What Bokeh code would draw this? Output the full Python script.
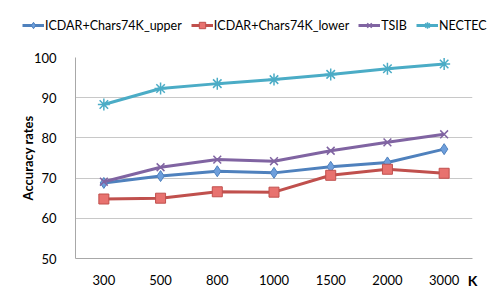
from bokeh.plotting import figure
from bokeh.models import Legend, LegendItem, FixedTicker, Range1d
from bokeh.layouts import column
from bokeh.embed import file_html
from bokeh.resources import INLINE

K = ["300", "500", "800", "1000", "1500", "2000", "3000"]
upper = [68.8, 70.5, 71.7, 71.3, 72.8, 73.9, 77.2]
lower = [64.8, 65.0, 66.6, 66.5, 70.7, 72.2, 71.2]
tsib = [69.1, 72.7, 74.6, 74.2, 76.8, 78.9, 80.9]
nectec = [88.3, 92.3, 93.5, 94.5, 95.8, 97.2, 98.4]
names = ["ICDAR+Chars74K_upper", "ICDAR+Chars74K_lower", "TSIB", "NECTEC"]
y_ticks = [50, 60, 70, 80, 90, 100]

FONT = "Lato"

styles = [
    ("#4F81BD", "#6E9FDC", "diamond", 11),
    ("#C0504D", "#E8726F", "square", 10),
    ("#8064A2", "#8064A2", "x", 11),
    ("#4BACC6", "#4BACC6", "asterisk", 12),
]

# main chart
p = figure(x_range=K, y_range=(50, 100), width=492, height=251,
           output_backend="svg", toolbar_location=None,
           min_border_left=75, min_border_right=20, min_border_top=17, min_border_bottom=25)

# legend strip (its own small figure so the legend is not clipped by the chart frame)
lf = figure(width=492, height=40, x_range=Range1d(0, 1), y_range=Range1d(0, 1),
            output_backend="svg", toolbar_location=None,
            min_border_left=22, min_border_right=0, min_border_top=17, min_border_bottom=0,
            x_axis_type=None, y_axis_type=None)
lf.outline_line_color = None
lf.background_fill_color = "white"
lf.border_fill_color = "white"

items = []
for name, vals, (col, fill, mk, sz) in zip(names, [upper, lower, tsib, nectec], styles):
    lw = 1.5 if mk in ("x", "asterisk") else 1
    p.line(K, vals, line_color=col, line_width=3)
    p.scatter(K, vals, marker=mk, size=sz, line_color=col, fill_color=fill, line_width=lw)
    # off-range proxies: only their styles are used to draw the legend swatches
    d1 = lf.line([-2, -1], [-2, -1], line_color=col, line_width=3)
    d2 = lf.scatter([-2], [-2], marker=mk, size=sz - 1, line_color=col, fill_color=fill, line_width=lw)
    items.append(LegendItem(label=name, renderers=[d1, d2]))

legend = Legend(items=items, orientation="horizontal", location="top_left",
                padding=0, spacing=9, margin=0, label_standoff=1,
                glyph_width=22, glyph_height=16, label_height=16,
                label_text_font=FONT, label_text_font_size="12.5px", label_text_color="#000000",
                border_line_color=None, background_fill_color=None)
lf.add_layout(legend, "center")

# keep the legend strip's frame independent of the chart frame
try:
    lf.frame_align = False
    p.frame_align = False
except Exception:
    legend.label_text_font_size = "10.5px"
    legend.glyph_width = 18
    legend.spacing = 5

p.outline_line_color = None
p.background_fill_color = "white"
p.border_fill_color = "white"

p.xgrid.grid_line_color = None
p.ygrid.grid_line_color = "#c8c8c8"
p.ygrid.grid_line_width = 1
p.yaxis.ticker = FixedTicker(ticks=y_ticks)

for ax in (p.xaxis[0], p.yaxis[0]):
    ax.major_tick_line_color = None
    ax.minor_tick_line_color = None
    ax.axis_line_color = "#a8a8a8"
    ax.major_label_text_font = FONT
    ax.major_label_text_font_size = "13px"
    ax.major_label_text_color = "#000000"

p.yaxis.major_label_standoff = 13
p.xaxis.major_label_standoff = 10
p.yaxis.axis_label = "Accuracy rates"
p.yaxis.axis_label_text_font = FONT
p.yaxis.axis_label_text_font_style = "bold"
p.yaxis.axis_label_text_font_size = "13px"
p.yaxis.axis_label_standoff = -5
p.yaxis.axis_label_text_color = "#000000"

p.xaxis.axis_label = "K"
p.xaxis.axis_label_align = "end"
p.xaxis.axis_label_standoff = -16
p.xaxis.axis_label_text_font = FONT
p.xaxis.axis_label_text_font_style = "bold"
p.xaxis.axis_label_text_font_size = "14px"
p.xaxis.axis_label_text_color = "#000000"

layout = column(lf, p, spacing=0)
open("out.html", "w").write(file_html(layout, INLINE))
